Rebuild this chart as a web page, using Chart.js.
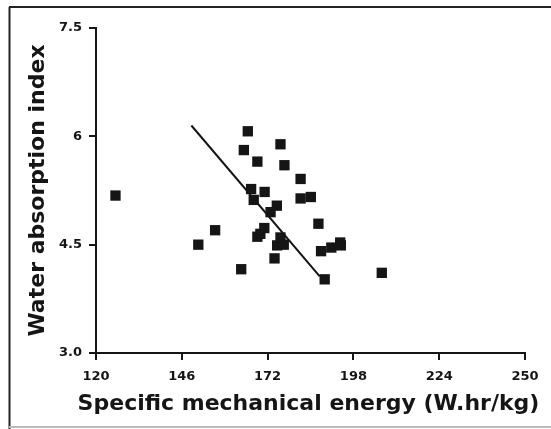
<!DOCTYPE html>
<html>
<head>
<meta charset="utf-8">
<script src="https://cdn.jsdelivr.net/npm/chart.js@4.4.1/dist/chart.umd.min.js"></script>
<style>
  html, body { margin: 0; padding: 0; background: #fff; }
  #wrap { width: 551px; height: 429px; }
</style>
</head>
<body>
<div id="wrap"><canvas id="sme"></canvas></div>
<script>
/* data */
var semX = [125.9, 151.0, 156.1, 164.0, 164.8, 166.0, 167.0, 167.8, 168.9, 168.9,
            169.8, 171.0, 171.1, 172.9, 174.1, 174.8, 174.9, 175.9, 175.9, 177.1,
            176.9, 182.0, 182.0, 185.1, 187.4, 188.2, 189.3, 191.3, 194.2, 194.0, 206.6];
var waiY = [5.18, 4.50, 4.70, 4.16, 5.81, 6.07, 5.27, 5.12, 5.65, 4.61,
            4.65, 4.73, 5.23, 4.95, 4.31, 5.04, 4.49, 5.89, 4.60, 5.60,
            4.50, 5.41, 5.14, 5.16, 4.79, 4.41, 4.02, 4.46, 4.49, 4.53, 4.11];
var fitX = [148.9, 187.8];
var fitY = [6.15, 4.06];
var xTicks = [120, 146, 172, 198, 224, 250];
var yTickLabels = { "3": "3.0", "4.5": "4.5", "6": "6", "7.5": "7.5" };
var xTitle = "Specific mechanical energy (W.hr/kg)";
var yTitle = "Water absorption index";

var ink = "#151515";

// scanned frame around the figure
var framePlugin = {
    id: "frame",
    beforeDraw: function (chart) {
        var ctx = chart.ctx;
        ctx.save();
        ctx.fillStyle = "#fff";
        ctx.fillRect(0, 0, chart.width, chart.height);
        ctx.strokeStyle = "#222";
        ctx.lineWidth = 2;
        ctx.beginPath();
        ctx.moveTo(9, 7);
        ctx.lineTo(551, 7);
        ctx.moveTo(9.5, 7);
        ctx.lineTo(9.5, 429);
        ctx.stroke();
        ctx.strokeStyle = "#bbb";
        ctx.lineWidth = 2;
        ctx.beginPath();
        ctx.moveTo(9, 427);
        ctx.lineTo(551, 427);
        ctx.stroke();
        ctx.restore();
    },
    // x title drawn here so it is not squeezed to the scale width
    afterDraw: function (chart) {
        var ctx = chart.ctx;
        var area = chart.chartArea;
        ctx.save();
        ctx.fillStyle = ink;
        ctx.font = "bold 22px 'DejaVu Sans'";
        ctx.textAlign = "center";
        ctx.textBaseline = "middle";
        ctx.fillText(xTitle, (area.left + area.right) / 2 - 2, 404);
        ctx.restore();
    }
};

document.addEventListener("DOMContentLoaded", function () {
    var points = semX.map(function (x, i) { return { x: x, y: waiY[i] }; });
    var fit = fitX.map(function (x, i) { return { x: x, y: fitY[i] }; });

    new Chart(document.getElementById("sme"), {
        type: "scatter",
        data: {
            datasets: [{
                    data: points,
                    pointStyle: "rect",
                    pointRadius: 7.3,
                    backgroundColor: ink,
                    borderColor: ink,
                    borderWidth: 0
                }, {
                    type: "line",
                    data: fit,
                    showLine: true,
                    borderColor: ink,
                    borderWidth: 2,
                    pointRadius: 0,
                    fill: false
                }]
        },
        options: {
            responsive: true,
            maintainAspectRatio: false,
            animation: false,
            layout: { padding: { left: 10, top: 28, right: 26, bottom: 0 } },
            plugins: { legend: { display: false }, tooltip: { enabled: false } },
            scales: {
                x: {
                    type: "linear",
                    min: 120,
                    max: 250,
                    afterBuildTicks: function (s) { s.ticks = xTicks.map(function (v) { return { value: v }; }); },
                    afterFit: function (s) { s.height = 76; },
                    border: { display: true, color: ink, width: 2 },
                    grid: { drawOnChartArea: false, drawTicks: true, tickLength: 7, color: ink, lineWidth: 2 },
                    ticks: {
                        color: ink,
                        padding: 9,
                        maxRotation: 0,
                        font: { family: "DejaVu Sans", weight: "bold", size: 13 }
                    },
                    title: { display: false }
                },
                y: {
                    type: "linear",
                    min: 3,
                    max: 7.5,
                    ticks: {
                        stepSize: 1.5,
                        color: ink,
                        padding: 7,
                        font: { family: "DejaVu Sans", weight: "bold", size: 13 },
                        callback: function (v) { return yTickLabels[String(v)] || v; }
                    },
                    afterFit: function (s) { s.width = 86; },
                    border: { display: true, color: ink, width: 2 },
                    grid: { drawOnChartArea: false, drawTicks: true, tickLength: 7, color: ink, lineWidth: 2 },
                    title: {
                        display: true,
                        text: yTitle,
                        color: ink,
                        padding: { top: 15, bottom: 0 },
                        font: { family: "DejaVu Sans", weight: "bold", size: 22 }
                    }
                }
            }
        },
        plugins: [framePlugin]
    });
});
</script>
</body>
</html>
